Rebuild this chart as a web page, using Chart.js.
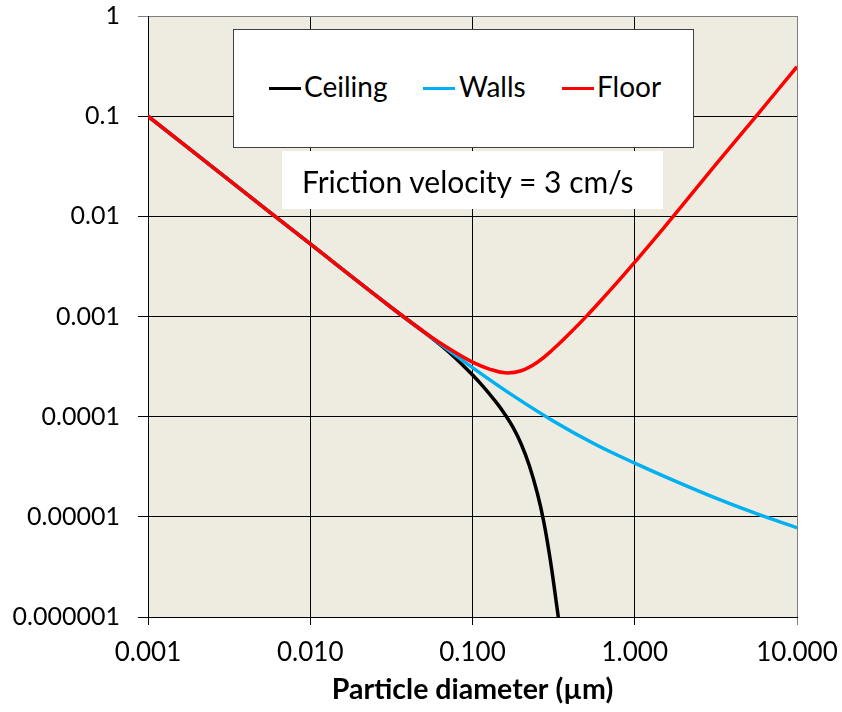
<!DOCTYPE html>
<html>
<head>
<meta charset="utf-8">
<script src="https://cdn.jsdelivr.net/npm/chart.js@4.4.1/dist/chart.umd.min.js"></script>
<style>
  html, body { margin: 0; padding: 0; background: #ffffff; }
  #wrap { position: relative; width: 842px; height: 712px; }
  #chart { position: absolute; left: 0; top: 0; }
  .box { position: absolute; background: #ffffff; box-sizing: border-box; font-family: Lato, "Open Sans", sans-serif; color: #000; }
  #legend { left: 233px; top: 29px; width: 461px; height: 119px; border: 1px solid #404040; }
  .sw { position: absolute; top: 57px; width: 32px; height: 3px; }
  .lt { position: absolute; top: 42px; font-size: 28px; line-height: 28px; white-space: nowrap; }
  #note { left: 282px; top: 151px; width: 381px; height: 58px; }
  #note span { position: absolute; left: 20px; top: 15px; font-size: 30px; line-height: 30px; white-space: nowrap; }
</style>
</head>
<body>
<div id="wrap">
  <canvas id="chart" width="842" height="712"></canvas>
  <div class="box" id="legend">
    <div class="sw" style="left:35px;background:#000000"></div><div class="lt" style="left:70px">Ceiling</div>
    <div class="sw" style="left:189px;background:#00B0F0"></div><div class="lt" style="left:225px">Walls</div>
    <div class="sw" style="left:328px;background:#FF0000"></div><div class="lt" style="left:363px">Floor</div>
  </div>
  <div class="box" id="note"><span>Friction velocity = 3 cm/s</span></div>
</div>
<script>
// ---- data (particle diameter in µm, deposition value) ----
const ceilingDiameters = [0.001, 0.003162, 0.01, 0.03162, 0.05623, 0.07079, 0.08913, 0.1122, 0.1413, 0.1585, 0.1778, 0.1995, 0.2239, 0.2512, 0.2754, 0.302, 0.3311, 0.3388];
const ceilingValues    = [0.1, 0.02301, 0.005297, 0.00123, 6.095e-4, 4.467e-4, 3.148e-4, 2.138e-4, 1.365e-4, 1.053e-4, 7.806e-5, 5.339e-5, 3.255e-5, 1.708e-5, 8.8e-6, 3.668e-6, 1.272e-6, 9.65e-7];

const wallsDiameters = [0.001, 0.003162, 0.01, 0.03162, 0.05623, 0.1, 0.1778, 0.3162, 0.5623, 1, 1.778, 3.162, 5.623, 10];
const wallsValues    = [0.1, 0.02301, 0.005297, 0.00123, 6.095e-4, 3.09e-4, 1.622e-4, 9.016e-5, 5.37e-5, 3.436e-5, 2.27e-5, 1.535e-5, 1.074e-5, 7.78e-6];

const floorDiameters = [0.001, 0.003162, 0.01, 0.03162, 0.05623, 0.07943, 0.1, 0.1259, 0.1585, 0.1995, 0.2512, 0.3162, 0.3981, 0.5012, 0.631, 0.7943, 1, 1.259, 1.778, 3.162, 5.623, 10];
const floorValues    = [0.1, 0.02301, 0.005297, 0.00123, 6.166e-4, 4.315e-4, 3.508e-4, 3.006e-4, 2.742e-4, 2.871e-4, 3.491e-4, 4.764e-4, 6.808e-4, 9.977e-4, 1.496e-3, 2.265e-3, 3.483e-3, 5.395e-3, 1.057e-2, 3.304e-2, 0.1009, 0.3119];

const xTickValues = [0.001, 0.01, 0.1, 1, 10];
const xTickLabels = ['0.001', '0.010', '0.100', '1.000', '10.000'];
const yTickValues = [1e-6, 1e-5, 1e-4, 1e-3, 1e-2, 1e-1, 1];
const yTickLabels = ['0.000001', '0.00001', '0.0001', '0.001', '0.01', '0.1', '1'];

const seriesNames = ['Ceiling', 'Walls', 'Floor'];
const seriesColors = ['#000000', '#00B0F0', '#FF0000'];

function pts(xs, ys) { return xs.map((x, i) => ({ x: x, y: ys[i] })); }

const plotBg = {
  id: 'plotBg',
  beforeDraw(chart) {
    const { ctx, chartArea: { left, top, width, height } } = chart;
    ctx.save();
    ctx.fillStyle = '#EEECE1';
    ctx.fillRect(left, top, width, height);
    ctx.restore();
  }
};

const baseDs = { borderWidth: 3.5, pointRadius: 0, pointHoverRadius: 0, fill: false, tension: 0.4 };

new Chart(document.getElementById('chart'), {
  type: 'line',
  data: {
    datasets: [
      Object.assign({ label: seriesNames[0], data: pts(ceilingDiameters, ceilingValues), borderColor: seriesColors[0], order: 3 }, baseDs),
      Object.assign({ label: seriesNames[1], data: pts(wallsDiameters, wallsValues), borderColor: seriesColors[1], order: 2 }, baseDs),
      Object.assign({ label: seriesNames[2], data: pts(floorDiameters, floorValues), borderColor: seriesColors[2], order: 1 }, baseDs)
    ]
  },
  options: {
    responsive: false,
    animation: false,
    devicePixelRatio: 1,
    layout: { padding: 0 },
    plugins: { legend: { display: false }, tooltip: { enabled: false } },
    scales: {
      x: {
        type: 'logarithmic',
        position: 'bottom',
        min: 0.001,
        max: 10,
        afterBuildTicks: s => { s.ticks = xTickValues.map(v => ({ value: v })); },
        afterFit: s => { s.height = 95; s.paddingLeft = 0; s.paddingRight = 45; },
        ticks: {
          autoSkip: false, maxRotation: 0, minRotation: 0, padding: 12,
          color: '#000',
          font: { family: 'Lato', size: 26 },
          callback: (v, i) => xTickLabels[i]
        },
        grid: {
          color: c => (c.tick && c.tick.value === 10) ? '#7f7f7f' : '#000000',
          lineWidth: 1, tickLength: 8
        },
        border: { display: true, color: '#000000', width: 1 },
        title: {
          display: true, text: 'Particle diameter (µm)', color: '#000',
          font: { family: 'Lato', size: 28.5, weight: 'bold' },
          padding: { top: 0, bottom: 5 }
        }
      },
      y: {
        type: 'logarithmic',
        position: 'left',
        min: 1e-6,
        max: 1,
        afterBuildTicks: s => { s.ticks = yTickValues.map(v => ({ value: v })); },
        afterFit: s => { s.width = 148; s.paddingTop = 16; s.paddingBottom = 0; },
        ticks: {
          autoSkip: false, padding: 18,
          color: '#000',
          font: { family: 'Lato', size: 25 },
          callback: (v, i) => yTickLabels[i]
        },
        grid: {
          color: c => (c.tick && c.tick.value === 1) ? '#7f7f7f' : '#000000',
          lineWidth: 1, tickLength: 10
        },
        border: { display: true, color: '#000000', width: 1 }
      }
    }
  },
  plugins: [plotBg]
});
</script>
</body>
</html>
